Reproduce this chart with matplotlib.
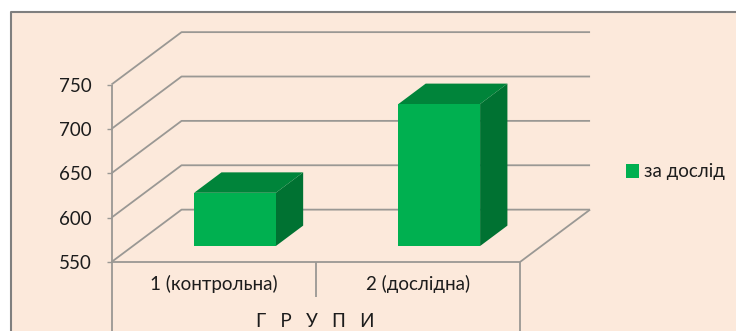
import matplotlib
matplotlib.use('Agg')
import matplotlib.pyplot as plt
from matplotlib.patches import Patch, Polygon, Rectangle

groups = ['1 (контрольна)', '2 (дослідна)']
values = [610, 710]
yticks = [550, 600, 650, 700, 750]
series_name = 'за дослід'
axis_title = 'Г   Р   У   П   И'

W, H = 736, 331
BG = '#fce9db'
FRONT, TOP, SIDE = '#00b050', '#00843a', '#007232'
GRID = '#9a9894'
TXT = '#1c1c1c'

plt.rcParams['font.family'] = ['Lato', 'DejaVu Sans']
plt.rcParams['font.size'] = 13.5

fig = plt.figure(figsize=(W / 100, H / 100), dpi=100, facecolor='white')

# panel with a grey edge on the left and top only
fig.add_artist(Rectangle((10 / W, 0), 1, 1 - 12 / H, transform=fig.transFigure,
                         fc=BG, ec='none', zorder=-2))
fig.add_artist(plt.Line2D([10.5 / W, 10.5 / W, 1], [0, 1 - 12 / H, 1 - 12 / H],
                          color='#7f7f7f', lw=1.5, zorder=-1))

ax = fig.add_axes([111.5 / W, 1 - 262 / H, 408.5 / W, 177.5 / H])
ax.patch.set_visible(False)
ax.set_xlim(0, 2)
ax.set_ylim(550, 750)
for s in ax.spines.values():
    s.set_visible(False)

# oblique depth of the box, in data units
dx = 0.343
dy = 59.0
bar_w = 0.40
d0, d1 = 0.305, 0.695
lw_grid = 1.3


def line(xs, ys):
    ax.plot(xs, ys, color=GRID, lw=lw_grid, clip_on=False, zorder=1,
            solid_capstyle='butt')


for v in yticks:
    line([0, dx, 2 + dx], [v, v + dy, v + dy])
line([0, 2, 2 + dx], [550, 550, 550 + dy])

# axis lines run below the floor for the category table
bottom = 472
line([0, 0], [750, bottom])
line([2, 2], [550, bottom])
line([1, 1], [550, 510])

for i, v in enumerate(values):
    x0 = i + 0.5 - bar_w / 2 + d0 * dx
    x1 = x0 + bar_w
    y0 = 550 + d0 * dy
    # the front face sits d0 into the box, so its top shifts with the depth too
    y1 = v + d0 * dy
    ox, oy = (d1 - d0) * dx, (d1 - d0) * dy
    ax.add_patch(Polygon([(x1, y0), (x1 + ox, y0 + oy), (x1 + ox, y1 + oy), (x1, y1)],
                         fc=SIDE, ec='none', clip_on=False, zorder=3))
    ax.add_patch(Polygon([(x0, y1), (x0 + ox, y1 + oy), (x1 + ox, y1 + oy), (x1, y1)],
                         fc=TOP, ec='none', clip_on=False, zorder=3))
    ax.add_patch(Rectangle((x0, y0), bar_w, y1 - y0, fc=FRONT, ec='none',
                           clip_on=False, zorder=4))

ax.set_yticks(yticks)
ax.set_xticks([0.5, 1.5], groups)
ax.tick_params(axis='y', length=3.6, width=1.0, color=GRID, pad=10.7, labelcolor=TXT)
ax.tick_params(axis='x', length=0, pad=9.5, labelcolor=TXT)
ax.set_xlabel(axis_title, color=TXT, labelpad=14.5)

leg = ax.legend(handles=[Patch(fc=FRONT, ec='none', label=series_name)],
                loc='center left', bbox_to_anchor=(622 / W, 1 - 172 / H),
                bbox_transform=fig.transFigure, frameon=False,
                handlelength=0.72, handleheight=0.72, handletextpad=0.28,
                borderpad=0, borderaxespad=0.2)
for t in leg.get_texts():
    t.set_color(TXT)

fig.savefig('out.png', dpi=100)
